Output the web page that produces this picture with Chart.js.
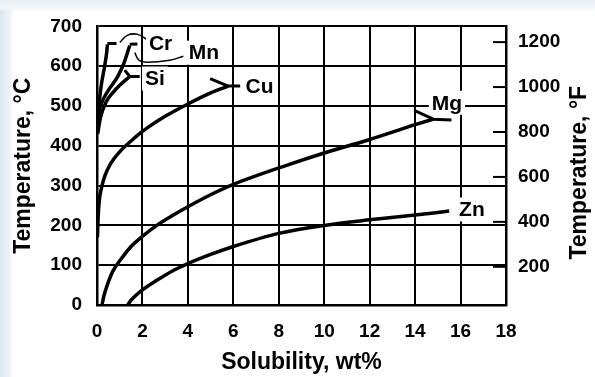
<!DOCTYPE html>
<html>
<head>
<meta charset="utf-8">
<script src="https://cdn.jsdelivr.net/npm/chart.js@4"></script>
<style>
  html, body { margin: 0; padding: 0; }
  body { width: 595px; height: 377px; overflow: hidden; background: #fff; }
  #wrap {
    position: relative; width: 595px; height: 377px;
    background:
      linear-gradient(to bottom, #e4ecf3 0, #f3f7fa 8px, rgba(255,255,255,0) 11px),
      linear-gradient(to right, #dbe6ef 0, #eef3f8 10px, #fff 14px);
  }
  canvas { position: absolute; left: 0; top: 0; }
</style>
</head>
<body>
<div id="wrap"><canvas id="chart" width="595" height="377"></canvas></div>
<script>
// solvus curves, wt% vs degC
const crX = [0.02, 0.1, 0.2, 0.33, 0.42, 0.46];
const crY = [460, 510, 557, 598, 632, 655];
const mnX = [0.02, 0.15, 0.45, 0.91, 1.22, 1.44];
const mnY = [470, 500, 535, 574, 613, 652];
const siX = [0.03, 0.15, 0.4, 0.69, 1.0, 1.44];
const siY = [430, 470, 510, 533, 552, 574];
const cuX = [0.02, 0.05, 0.1, 0.2, 0.35, 0.6, 1.0, 1.5, 2.0, 3.0, 4.0, 5.0, 5.77];
const cuY = [170, 220, 262, 295, 325, 355, 385, 412, 436, 474, 505, 533, 550];
const mgX = [0.22, 0.3, 0.45, 0.7, 1.13, 1.5, 1.97, 2.63, 3.3, 4.1, 5, 6, 8.5, 10, 11.9, 14, 14.8];
const mgY = [0, 22, 50, 85, 121, 147, 171, 200, 224, 250, 277, 303, 354, 382, 414, 453, 467];
const znX = [1.35, 1.5, 2.0, 2.63, 3.3, 4, 5, 6, 8, 10, 12, 14, 15.5];
const znY = [0, 12, 38, 62, 85, 104, 127, 147, 180, 200, 214, 226, 236];

// end marks (caps and forks) and thin leaders to the labels
const crCapX = [0.46, 0.86];
const crCapY = [657, 657];
const mnCapX = [1.44, 1.78];
const mnCapY = [655, 656];
const siForkX = [1.22, 1.44, 1.88];
const siForkY = [590, 574, 574];
const cuForkX = [4.98, 5.77, 6.3];
const cuForkY = [569, 550, 550];
const mgForkX = [13.96, 14.8, 15.6];
const mgForkY = [489, 467, 465];
const crLeadX = [1.0, 1.35, 1.79, 2.23];
const crLeadY = [660, 678, 680, 666];
const mnLeadX = [1.66, 1.85, 2.2, 3.2, 3.8];
const mnLeadY = [634, 615, 610, 615, 625];

const labelNames = ["Cr", "Mn", "Si", "Cu", "Mg", "Zn"];
const labelX = [2.8, 4.7, 2.55, 7.15, 15.4, 16.5];
const labelY = [659, 634, 569, 550, 508, 240];

const xTicks = [0, 2, 4, 6, 8, 10, 12, 14, 16, 18];
const cTicks = [0, 100, 200, 300, 400, 500, 600, 700];
const fTicks = [200, 400, 600, 800, 1000, 1200];

const FONT = "'Liberation Sans', Arial, Helvetica, sans-serif";

function pts(xs, ys) {
  return xs.map((x, i) => ({ x: x, y: ys[i] }));
}

function curve(xs, ys) {
  return { data: pts(xs, ys), borderColor: "#000", borderWidth: 3.5, pointRadius: 0,
           fill: false, cubicInterpolationMode: "monotone" };
}

function mark(xs, ys) {
  return { data: pts(xs, ys), borderColor: "#000", borderWidth: 3, pointRadius: 0,
           fill: false, tension: 0, borderJoinStyle: "round" };
}

function leader(xs, ys) {
  return { data: pts(xs, ys), borderColor: "#000", borderWidth: 1.5, pointRadius: 0,
           fill: false, tension: 0.4 };
}

const extras = {
  id: "extras",
  afterDatasetsDraw(chart) {
    const ctx = chart.ctx;
    const xs = chart.scales.x, ys = chart.scales.y, y2 = chart.scales.y2;
    const area = chart.chartArea;
    ctx.save();
    // inner tick marks of the degF axis
    ctx.strokeStyle = "#000";
    ctx.lineWidth = 2;
    fTicks.forEach(v => {
      const py = y2.getPixelForValue(v);
      ctx.beginPath();
      ctx.moveTo(area.right - 13, py);
      ctx.lineTo(area.right, py);
      ctx.stroke();
    });
    // curve labels on a white box
    ctx.font = "bold 21px " + FONT;
    ctx.textAlign = "center";
    ctx.textBaseline = "middle";
    labelNames.forEach((t, i) => {
      const px = xs.getPixelForValue(labelX[i]);
      const py = ys.getPixelForValue(labelY[i]);
      const w = ctx.measureText(t).width;
      ctx.fillStyle = "#fff";
      ctx.fillRect(px - w / 2 - 3, py - 12, w + 6, 24);
      ctx.fillStyle = "#000";
      ctx.fillText(t, px, py + 1);
    });
    // right axis title, reading bottom to top
    ctx.font = "bold 23px " + FONT;
    ctx.translate(580, (area.top + area.bottom) / 2 + 7);
    ctx.rotate(-Math.PI / 2);
    ctx.fillText("Temperature, °F", 0, 0);
    ctx.restore();
  }
};

const tickFont = { family: FONT, size: 19, weight: "bold" };
const titleFont = { family: FONT, size: 23, weight: "bold" };
const plain = v => String(v);

const ctx = document.getElementById("chart").getContext("2d");

new Chart(ctx, {
  type: "line",
  data: {
    datasets: [
      curve(crX, crY), curve(mnX, mnY), curve(siX, siY),
      curve(cuX, cuY), curve(mgX, mgY), curve(znX, znY),
      mark(crCapX, crCapY), mark(mnCapX, mnCapY), mark(siForkX, siForkY),
      mark(cuForkX, cuForkY), mark(mgForkX, mgForkY),
      leader(crLeadX, crLeadY), leader(mnLeadX, mnLeadY)
    ]
  },
  options: {
    responsive: false,
    animation: false,
    layout: { padding: { top: 16 } },
    plugins: { legend: { display: false }, tooltip: { enabled: false } },
    scales: {
      x: {
        type: "linear", min: 0, max: 18,
        afterBuildTicks(s) { s.ticks = xTicks.map(v => ({ value: v })); },
        ticks: { color: "#000", font: tickFont, padding: 15, callback: plain },
        grid: { color: "#000", lineWidth: 2, drawTicks: false },
        border: { color: "#000", width: 2.5 },
        title: { display: true, text: "Solubility, wt%", color: "#000",
                 font: titleFont, padding: { top: 0, bottom: 1 } },
        afterFit(s) { s.height = 72; }
      },
      y: {
        type: "linear", min: 0, max: 700,
        afterBuildTicks(s) { s.ticks = cTicks.map(v => ({ value: v })); },
        ticks: { color: "#000", font: tickFont, padding: 15, callback: plain },
        grid: { color: "#000", lineWidth: 2, drawTicks: false },
        border: { color: "#000", width: 2.5 },
        title: { display: true, text: "Temperature, °C", color: "#000",
                 font: titleFont, padding: { top: 10, bottom: 0 } },
        afterFit(s) { s.width = 97; }
      },
      y2: {
        type: "linear", position: "right", min: 30, max: 1270,
        afterBuildTicks(s) { s.ticks = fTicks.map(v => ({ value: v })); },
        ticks: { color: "#000", font: tickFont, padding: 12, callback: plain },
        grid: { drawOnChartArea: false, drawTicks: false },
        border: { color: "#000", width: 2.5 },
        afterFit(s) { s.width = 89; }
      }
    }
  },
  plugins: [extras]
});
</script>
</body>
</html>
